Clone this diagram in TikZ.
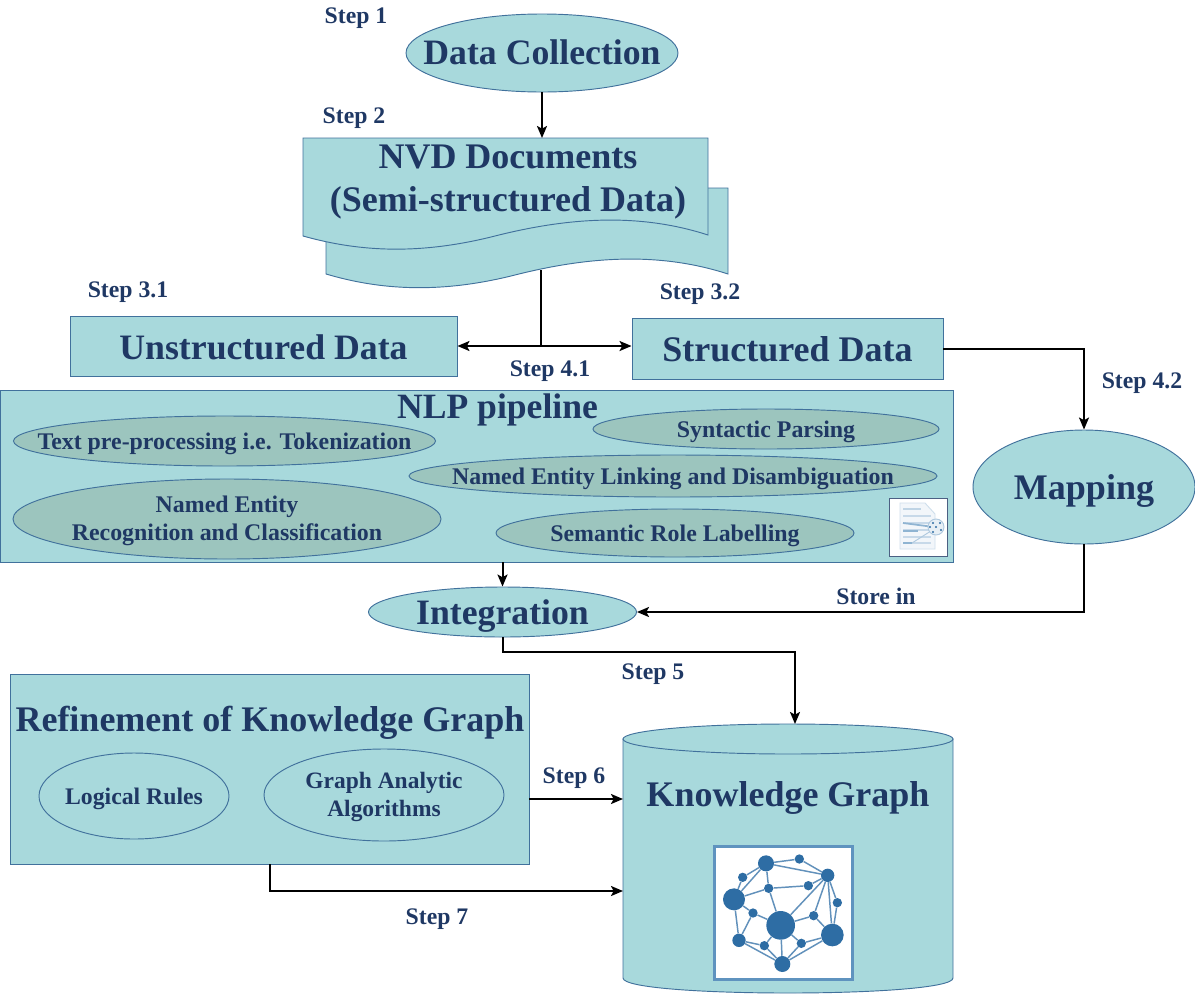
\documentclass[tikz,border=0pt]{standalone}
\usepackage{fontspec}
\setmainfont{Liberation Serif}
\usetikzlibrary{arrows.meta,shapes.geometric,calc}
\definecolor{tealfill}{HTML}{A8D9DC}
\definecolor{innerfill}{HTML}{9CC5BE}
\definecolor{edgeblue}{HTML}{41719C}
\definecolor{inkblue}{HTML}{1F3864}
\definecolor{netblue}{HTML}{2E6DA4}
\definecolor{framed}{HTML}{5F93BF}
\newcommand{\fsz}[1]{\fontsize{#1}{\dimexpr #1pt*12/10\relax}\selectfont\bfseries\color{inkblue}}
\newcommand{\ctxt}[1]{\makebox[0pt]{\raisebox{-.31em}[0pt][0pt]{#1}}}
\newcommand{\ctxb}[1]{\makebox[0pt]{\raisebox{-.35em}[0pt][0pt]{#1}}}
\newcommand{\ctwo}[2]{\makebox[0pt]{\raisebox{-.31em}[0pt][0pt]{#1}}\\\makebox[0pt]{\raisebox{-.31em}[0pt][0pt]{#2}}}
\tikzset{
 x=0.75pt,y=-0.75pt,
 boxed/.style={draw=edgeblue,fill=tealfill,line width=0.7pt,rectangle,inner sep=0pt,align=center},
 oval/.style={draw=edgeblue,fill=tealfill,line width=0.7pt,ellipse,inner sep=0pt,align=center},
 inneroval/.style={oval,fill=innerfill},
 shapeline/.style={draw=edgeblue,fill=tealfill,line width=0.7pt},
 label/.style={inner sep=0pt,align=center,text=inkblue},
 steplabel/.style={label,font=\fsz{17.8}},
 conn/.style={black,line width=1.5pt,-{Stealth[length=9pt,width=7.5pt,inset=2pt]}},
 plainconn/.style={black,line width=1.5pt},
 netnode/.style={circle,fill=netblue,inner sep=0pt},
 netedge/.style={draw=netblue!75,line width=1.1pt},
}
\begin{document}
\begin{tikzpicture}
\useasboundingbox (0,0) rectangle (1195,993);
% data collection
\node[oval,minimum width=272*0.75pt,minimum height=78*0.75pt,font=\fsz{26.8}] (dc) at (542,53) {\ctxt{Data Collection}};
% NVD stack
\coordinate (nvdtop) at (541,138);
\coordinate (nvdbottom) at (541,270);
\path[shapeline] (326,188) -- (728,188) -- (728,274) .. controls (660,252) and (590,256) .. (515,275) .. controls (440,294) and (380,290) .. (326,274) -- cycle;
\path[shapeline] (303,138) -- (708,138) -- (708,235) .. controls (640,213) and (570,217) .. (495,236) .. controls (420,255) and (360,252) .. (303,236) -- cycle;
\node[label,font=\fsz{27}] (nvd) at (508,182) {NVD Documents\\(Semi-structured Data)};
% step 3
\node[boxed,minimum width=387*0.75pt,minimum height=60*0.75pt,font=\fsz{26.8}] (unstr) at (263.5,346) {\makebox[0pt]{\raisebox{-.37em}[0pt][0pt]{Unstructured Data}}};
\node[boxed,minimum width=311*0.75pt,minimum height=61*0.75pt,font=\fsz{27}] (str) at (787.5,348.5) {\ctxb{Structured Data}};
% NLP
\node[boxed,minimum width=953*0.75pt,minimum height=172*0.75pt] (nlp) at (476.5,476) {};
\node[label,font=\fsz{26.7}] (nlptitle) at (497.5,407) {\ctxt{NLP pipeline}};
\node[inneroval,minimum width=422*0.75pt,minimum height=50*0.75pt,font=\fsz{17.9}] (tok) at (224.5,441) {\ctxb{Text pre-processing i.e. Tokenization}};
\node[inneroval,minimum width=346*0.75pt,minimum height=40*0.75pt,font=\fsz{17.9}] (syn) at (766,429) {\ctxb{Syntactic Parsing}};
\node[inneroval,minimum width=528*0.75pt,minimum height=42*0.75pt,font=\fsz{17.9}] (nel) at (673,476) {\ctxb{Named Entity Linking and Disambiguation}};
\node[inneroval,minimum width=428*0.75pt,minimum height=80*0.75pt,font=\fsz{17.9}] (ner) at (227,519) {\ctwo{Named Entity}{Recognition and Classification}};
\node[inneroval,minimum width=358*0.75pt,minimum height=48*0.75pt,font=\fsz{17.9}] (srl) at (675,533) {\ctxb{Semantic Role Labelling}};
% document icon
\node[draw=inkblue!80,fill=white,line width=0.8pt,minimum width=58*0.75pt,minimum height=58*0.75pt,inner sep=0pt] (docicon) at (918.5,527.5) {};
\begin{scope}[line width=0.7pt]
\path[fill=framed!8,draw=framed!30] (900,503) -- (925,503) -- (935,514) -- (935,549) -- (900,549) -- cycle;
\draw[framed!40,line width=1.4pt] (903,509) -- (921,509);
\foreach \yy/\xa/\xb in {516/903/931,523/903/931,530/903/931,537/903/931,543/903/931}
  \draw[framed!35,line width=0.8pt] (\xa,\yy) -- (\xb,\yy);
\draw[framed!70,line width=1.3pt] (903,523) -- (934,527);
\draw[framed!70,line width=1.3pt] (903,531) -- (918,531);
\draw[framed!70,line width=1.3pt] (903,543) -- (912,543);
\draw[framed!50] (912,543) -- (934,529);
\path[fill=framed!15,draw=framed!50] (936,527) circle[radius=8];
\foreach \px/\py in {936/527,933/523,940/523,941/530,933/532,930/527}
  \fill[netblue] (\px,\py) circle[radius=1.2];
\end{scope}
% mapping
\node[oval,minimum width=222*0.75pt,minimum height=114*0.75pt,font=\fsz{27}] (map) at (1084,487) {\ctxb{Mapping}};
% integration
\node[oval,minimum width=268*0.75pt,minimum height=50*0.75pt,font=\fsz{26.8}] (integ) at (502.5,612) {\ctxb{Integration}};
% refinement
\node[boxed,minimum width=519*0.75pt,minimum height=190*0.75pt] (ref) at (269.5,769) {};
\node[label,font=\fsz{27}] (reftitle) at (270,720) {\ctxt{Refinement of Knowledge Graph}};
\node[oval,minimum width=190*0.75pt,minimum height=86*0.75pt,font=\fsz{17.8}] (rules) at (134,796) {\ctxb{Logical Rules}};
\node[oval,minimum width=240*0.75pt,minimum height=92*0.75pt,font=\fsz{17.6}] (algo) at (384,795) {\ctwo{Graph Analytic}{Algorithms}};
% knowledge graph cylinder
\path[shapeline] (623,739) -- (623,978) .. controls (623,998) and (953,998) .. (953,978) -- (953,739) -- cycle;
\path[shapeline] (788,739) ellipse[x radius=165,y radius=15];
\coordinate (kgtop) at (795,724);
\coordinate (kgleftupper) at (623,799);
\coordinate (kgleftlower) at (623,891);
\node[label,font=\fsz{27}] (kgtitle) at (788,795) {\ctxt{Knowledge Graph}};
\node[draw=framed,fill=white,line width=2pt,minimum width=138*0.75pt,minimum height=133*0.75pt,inner sep=0pt] (kgicon) at (783.5,913) {};
\begin{scope}[shift={(700,830)},x=0.25pt,y=-0.25pt]
\foreach \nm/\px/\py/\rr in {a/198/100/24,b/298/87/14,c/383/136/20,d/128/142/14,e/206/175/14,f/325/167/14,g/102/208/33,h/412/218/14,i/159/249/14,j/242/286/43,k/341/257/14,l/397/315/34,m/117/331/20,n/193/347/14,o/304/340/14,p/247/402/24}
  \node[netnode,minimum size=\rr*0.5pt] (\nm) at (\px,\py) {};
\foreach \aa/\bb in {a/b,b/c,a/c,a/d,d/g,a/e,a/g,e/g,e/f,f/c,e/j,c/j,c/k,c/l,c/h,h/l,g/m,g/i,i/m,i/j,j/k,k/l,j/n,j/o,j/p,m/n,n/p,m/p,o/l,o/p,l/p}
  \draw[netedge] (\aa) -- (\bb);
\end{scope}
% connectors
\draw[conn] (dc.south) -- (dc.south |- nvdtop);
\coordinate (junction) at (541,346);
\draw[plainconn,line width=1.8pt] (nvdbottom) -- (junction);
\draw[conn] (junction) -- (junction -| unstr.east);
\draw[conn] (junction) -- (junction -| str.west);
\draw[conn] (str.east) -| (map.north);
\draw[conn] (map.south) |- (integ.east);
\draw[conn] (integ.north |- nlp.south) -- (integ.north);
\draw[conn] (integ.south) -- ++(0,15) -| (kgtop);
\draw[conn] (ref.east |- kgleftupper) -- (kgleftupper);
\draw[conn] (ref.south) |- (kgleftlower);
% labels
\node[steplabel] (s1) at (356,18) {Step 1};
\node[steplabel] (s2) at (354,118) {Step 2};
\node[steplabel] (s31) at (128,292) {Step 3.1};
\node[steplabel] (s32) at (700,294) {Step 3.2};
\node[steplabel] (s41) at (550,371) {Step 4.1};
\node[steplabel] (s42) at (1142,383) {Step 4.2};
\node[steplabel] (store) at (876,596) {Store in};
\node[steplabel] (s5) at (653,674) {Step 5};
\node[steplabel] (s6) at (574,778) {Step 6};
\node[steplabel] (s7) at (437,919) {Step 7};
\end{tikzpicture}
\end{document}
